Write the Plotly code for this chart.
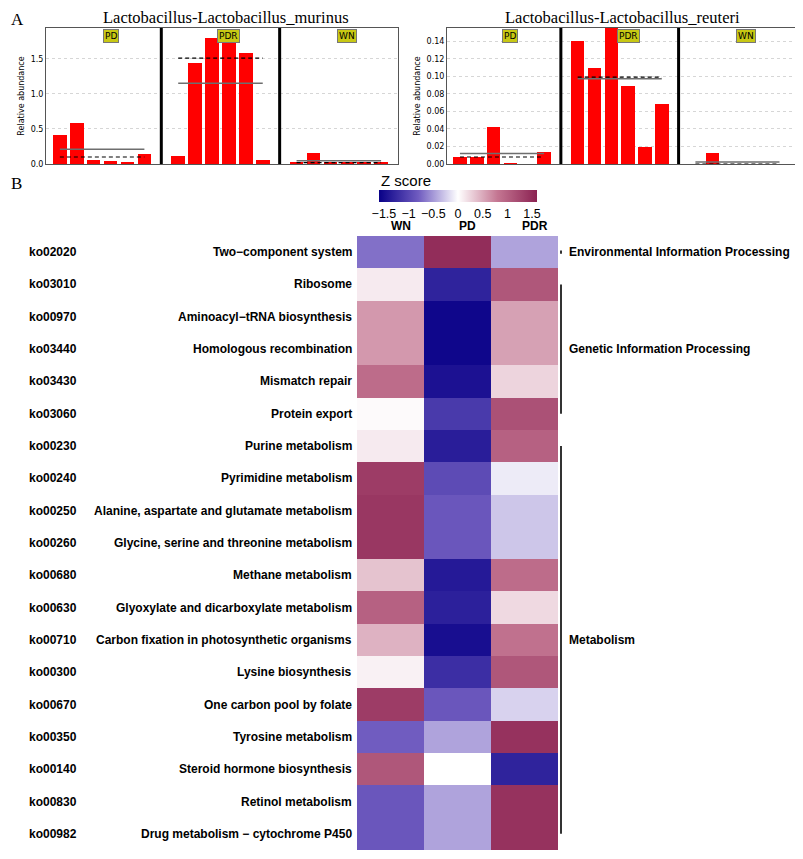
import statistics
import plotly.graph_objects as go

# page body has an 8px margin: the figure is sized to the remaining area
OFF = 8
W, H = 803 - OFF, 859 - OFF
def px(p):
    return (p - OFF) / W
def py(p):
    return 1 - (p - OFF) / H

# ---------------- data ----------------
groups = ["PD", "PDR", "WN"]

murinus_PD = [0.42, 0.58, 0.06, 0.04, 0.02, 0.14]
murinus_PDR = [0.12, 1.44, 1.80, 1.92, 1.58, 0.06]
murinus_WN = [0.02, 0.16, 0.02, 0.02, 0.02, 0.03]

reuteri_PD = [0.008, 0.008, 0.042, 0.0005, 0.0, 0.014]
reuteri_PDR = [0.140, 0.109, 0.158, 0.089, 0.019, 0.068]
reuteri_WN = [0.0, 0.013, 0.0, 0.0, 0.0, 0.0]

murinus_ticks = [0, 0.5, 1.0, 1.5]
reuteri_ticks = [0, 0.02, 0.04, 0.06, 0.08, 0.10, 0.12, 0.14]

heat_cols = ["WN", "PD", "PDR"]
ko_codes = ["ko02020", "ko03010", "ko00970", "ko03440", "ko03430", "ko03060",
            "ko00230", "ko00240", "ko00250", "ko00260", "ko00680", "ko00630",
            "ko00710", "ko00300", "ko00670", "ko00350", "ko00140", "ko00830",
            "ko00982"]
pathways = ["Two\u2212component system", "Ribosome", "Aminoacyl\u2212tRNA biosynthesis",
            "Homologous recombination", "Mismatch repair", "Protein export",
            "Purine metabolism", "Pyrimidine metabolism",
            "Alanine, aspartate and glutamate metabolism",
            "Glycine, serine and threonine metabolism", "Methane metabolism",
            "Glyoxylate and dicarboxylate metabolism",
            "Carbon fixation in photosynthetic organisms", "Lysine biosynthesis",
            "One carbon pool by folate", "Tyrosine metabolism",
            "Steroid hormone biosynthesis", "Retinol metabolism",
            "Drug metabolism \u2212 cytochrome P450"]
wn_z = [-0.7, 0.12, 0.6, 0.6, 0.9, 0.03, 0.12, 1.35, 1.4, 1.4, 0.35, 1.0,
        0.45, 0.08, 1.35, -0.8, 1.1, -0.85, -0.85]
pd_z = [1.5, -1.3, -1.55, -1.55, -1.45, -1.1, -1.35, -0.95, -0.85, -0.85,
        -1.38, -1.32, -1.48, -1.2, -0.85, -0.45, 0.0, -0.45, -0.45]
pdr_z = [-0.45, 1.1, 0.55, 0.55, 0.25, 1.15, 1.0, -0.1, -0.28, -0.28, 0.9,
         0.22, 0.85, 1.1, -0.22, 1.45, -1.3, 1.45, 1.45]

categories = [("Environmental Information Processing", 0, 0),
              ("Genetic Information Processing", 1, 5),
              ("Metabolism", 6, 18)]

# ---------------- figure ----------------
fig = go.Figure()

def add_bar_panel(vals_by_group, xa, ya):
    for g, vals in enumerate(vals_by_group):
        xs = [g * 7 + i + 1 for i in range(len(vals))]
        fig.add_trace(go.Bar(x=xs, y=vals, width=0.8, marker_color="#ff0000",
                             marker_line_width=0, xaxis=xa, yaxis=ya,
                             showlegend=False))
        m = sum(vals) / len(vals)
        md = statistics.median(vals)
        fig.add_trace(go.Scatter(x=[xs[0], xs[-1]], y=[m, m], mode="lines",
                                 line=dict(color="#6e6e6e", width=1.5),
                                 xaxis=xa, yaxis=ya, showlegend=False))
        fig.add_trace(go.Scatter(x=[xs[0], xs[-1]], y=[md, md], mode="lines",
                                 line=dict(color="black", width=1.2, dash="4px,3px"),
                                 xaxis=xa, yaxis=ya, showlegend=False))

add_bar_panel([murinus_PD, murinus_PDR, murinus_WN], "x", "y")
add_bar_panel([reuteri_PD, reuteri_PDR, reuteri_WN], "x2", "y2")

z = [[wn_z[i], pd_z[i], pdr_z[i]] for i in range(len(ko_codes))]
colorscale = [[0.0, "rgb(8,0,135)"], [0.25, "rgb(112,92,192)"],
              [0.5, "rgb(255,255,255)"], [0.75, "rgb(196,118,146)"],
              [1.0, "rgb(139,34,82)"]]
fig.add_trace(go.Heatmap(
    z=z, x=[0, 1, 2], y=list(range(len(ko_codes))), colorscale=colorscale,
    zmin=-1.6, zmax=1.6, xaxis="x3", yaxis="y3",
    colorbar=dict(orientation="h", x=px(458), xanchor="center",
                  y=py(190), yanchor="top", lenmode="pixels", len=158,
                  thickness=12, outlinewidth=0, xpad=0, ypad=0,
                  tickvals=[-1.5, -1, -0.5, 0, 0.5, 1, 1.5],
                  ticktext=["\u22121.5", "\u22121", "\u22120.5", "0", "0.5", "1", "1.5"],
                  ticks="", ticklabelposition="outside bottom",
                  tickfont=dict(family="Liberation Sans", size=12.5, color="black"))))

axis_common = dict(showline=True, mirror=True, linecolor="#555", linewidth=1,
                   ticks="", zeroline=False)
small_font = dict(family="DejaVu Sans", size=8, color="black")

fig.update_layout(
    width=W, height=H, autosize=False,
    margin=dict(l=0, r=0, t=0, b=0, autoexpand=False),
    paper_bgcolor="white", plot_bgcolor="white",
    bargap=0,
    xaxis=dict(domain=[px(46), px(398)], range=[0.18, 21], anchor="y",
               showticklabels=False, showgrid=False, **axis_common),
    yaxis=dict(domain=[py(164), py(28)], range=[0, 1.94], anchor="x",
               tickvals=murinus_ticks, tickformat=".1f", tickfont=small_font,
               showgrid=True, gridcolor="#d6d6d6", griddash="dot",
               title=dict(text="Relative abundance", font=small_font, standoff=4),
               **axis_common),
    xaxis2=dict(domain=[px(447), px(798)], range=[0.23, 21.1], anchor="y2",
                showticklabels=False, showgrid=False, **axis_common),
    yaxis2=dict(domain=[py(164), py(28)], range=[0, 0.155], anchor="x2",
                tickvals=reuteri_ticks, tickformat=".2f", tickfont=small_font,
                showgrid=True, gridcolor="#d6d6d6", griddash="dot",
                title=dict(text="Relative abundance", font=small_font, standoff=4),
                **axis_common),
    xaxis3=dict(domain=[px(357), px(558)], range=[-0.5, 2.5], anchor="y3",
                visible=False),
    yaxis3=dict(domain=[py(850), py(236)], range=[len(ko_codes) - 0.5, -0.5],
                anchor="x3", visible=False),
)

ann = []
serif = dict(family="Liberation Serif", size=16.5, color="black")
ann.append(dict(text="Lactobacillus-Lactobacillus_murinus", x=px(226), y=py(17),
                xref="paper", yref="paper", xanchor="center", yanchor="middle",
                showarrow=False, font=serif))
ann.append(dict(text="Lactobacillus-Lactobacillus_reuteri", x=px(622), y=py(17),
                xref="paper", yref="paper", xanchor="center", yanchor="middle",
                showarrow=False, font=serif))
panel_font = dict(family="Liberation Serif", size=17, color="black")
ann.append(dict(text="A", x=px(9), y=py(19), xref="paper", yref="paper",
                xanchor="left", yanchor="middle", showarrow=False, font=panel_font))
ann.append(dict(text="B", x=px(9), y=py(184), xref="paper", yref="paper",
                xanchor="left", yanchor="middle", showarrow=False, font=panel_font))
ann.append(dict(text="Z score", x=px(379), y=py(181), xref="paper", yref="paper",
                xanchor="left", yanchor="middle", showarrow=False,
                font=dict(family="Liberation Sans", size=15, color="black")))

for xr in ["x", "x2"]:
    for g, name in enumerate(groups):
        ann.append(dict(text=name, x=g * 7 + 4, y=py(36), xref=xr, yref="paper",
                        xanchor="center", yanchor="middle",
                        showarrow=False, bgcolor="rgb(200,200,20)",
                        bordercolor="#777", borderwidth=1, borderpad=1,
                        font=dict(family="DejaVu Sans", size=9, color="black")))

bold12 = dict(family="Liberation Sans", size=12, color="black", weight="bold")
for j, c in enumerate(heat_cols):
    ann.append(dict(text=c, x=j, y=py(226), xref="x3", yref="paper", xshift=10,
                    xanchor="center", yanchor="middle", showarrow=False, font=bold12))
for i in range(len(ko_codes)):
    ann.append(dict(text=ko_codes[i], x=px(27), y=i, xref="paper", yref="y3",
                    xanchor="left", yanchor="middle", showarrow=False, font=bold12))
    ann.append(dict(text=pathways[i], x=px(354), y=i, xref="paper", yref="y3",
                    xanchor="right", yanchor="middle", showarrow=False, font=bold12))

shapes = []
for name, a, b in categories:
    mid = (a + b) / 2
    ann.append(dict(text=name, x=px(567), y=mid, xref="paper", yref="y3",
                    xanchor="left", yanchor="middle", showarrow=False, font=bold12))
    y0, y1 = (a - 0.05, b + 0.05) if a == b else (a, b)
    shapes.append(dict(type="line", xref="paper", yref="y3", x0=px(561), x1=px(561),
                       y0=y0, y1=y1, line=dict(color="#333", width=2)))

for xr in ["x", "x2"]:
    for sep in [7, 14]:
        shapes.append(dict(type="line", xref=xr, yref=xr.replace("x", "y") + " domain",
                           x0=sep, x1=sep, y0=0, y1=1,
                           line=dict(color="black", width=3)))

fig.update_layout(annotations=ann, shapes=shapes)
fig.write_html("out.html")
